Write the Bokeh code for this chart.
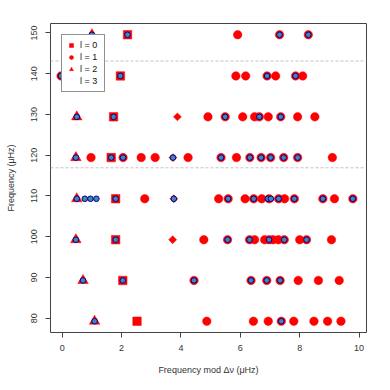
import math
from bokeh.plotting import figure
from bokeh.models import Range1d, Legend, LegendItem, Span, FixedTicker
from bokeh.embed import file_html
from bokeh.resources import INLINE

# ---- data -------------------------------------------------------------
# frequency of each échelle row (μHz)
row_freq = [79.25, 89.25, 99.25, 109.3, 119.4, 129.4, 139.45, 149.55]

# l = 0 (one per row)
l0_mod = [2.52, 2.04, 1.80, 1.80, 1.65, 1.73, 1.96, 2.20]
l0_freq = row_freq

# l = 2
l2_mod = [1.09, 0.70, 0.46, 0.49, 0.46, 0.49, 1.00]
l2_freq = [79.25, 89.25, 99.25, 109.3, 119.4, 129.4, 149.55]

# l = 3
l3_mod = [3.72, 3.76, 3.73, 3.88]
l3_freq = [99.25, 109.3, 119.4, 129.4]

# l = 1 (mixed modes), per row
l1_row1 = [4.87, 6.44, 6.94, 7.38, 7.80, 8.48, 8.94, 9.39]
l1_row2 = [4.44, 6.36, 6.89, 7.34, 7.95, 8.63, 9.33]
l1_row3 = [4.77, 5.57, 6.31, 6.48, 6.82, 6.97, 7.10, 7.28, 7.48, 8.00, 8.23, 9.07]
l1_row4 = [2.78, 5.27, 5.59, 6.16, 6.45, 6.72, 6.97, 7.29, 7.49, 7.82, 8.78, 9.17, 9.79]
l1_row5 = [0.97, 2.05, 2.66, 3.13, 4.24, 5.35, 5.87, 6.32, 6.70, 7.02, 7.46, 7.93, 9.10]
l1_row6 = [4.91, 5.49, 6.08, 6.48, 6.64, 6.94, 7.36, 7.93, 8.51]
l1_row7 = [-0.04, 5.85, 6.18, 6.90, 7.19, 7.86, 8.10]
l1_row8 = [5.91, 7.32, 8.29]

# observed frequencies (blue), per row
obs_row1 = [1.09, 7.38]
obs_row2 = [0.70, 2.04, 4.44, 6.36, 6.89, 7.34]
obs_row3 = [0.46, 1.80, 5.57, 6.31, 6.97, 7.48, 8.23]
obs_row4 = [0.49, 0.76, 0.95, 1.15, 1.80, 3.76, 5.59, 6.45, 6.93, 7.03, 7.29, 7.82, 8.78, 9.79]
obs_row5 = [0.46, 1.65, 2.05, 3.73, 5.35, 6.32, 6.70, 7.02, 7.46, 7.93]
obs_row6 = [0.49, 1.73, 5.49, 6.64, 7.36]
obs_row7 = [-0.04, 1.96, 6.90, 7.86]
obs_row8 = [1.00, 2.20, 7.32, 8.29]

# horizontal reference lines (μHz)
ref_lines = [143.1, 116.9]

x_ticks = [0, 2, 4, 6, 8, 10]
y_ticks = [80, 90, 100, 110, 120, 130, 140, 150]

l1_rows = [l1_row1, l1_row2, l1_row3, l1_row4, l1_row5, l1_row6, l1_row7, l1_row8]
obs_rows = [obs_row1, obs_row2, obs_row3, obs_row4, obs_row5, obs_row6, obs_row7, obs_row8]

l1_mod, l1_freq = [], []
for f, r in zip(row_freq, l1_rows):
    l1_mod += r
    l1_freq += [f] * len(r)
obs_mod, obs_freq = [], []
for f, r in zip(row_freq, obs_rows):
    obs_mod += r
    obs_freq += [f] * len(r)

# ---- figure -----------------------------------------------------------
RED = "#FF0000"
TXT = "#333333"
FONT = "Liberation Sans"

p = figure(frame_width=316, frame_height=309,
           min_border_left=50, min_border_right=22,
           min_border_top=23, min_border_bottom=56,
           x_range=Range1d(-0.395, 10.25), y_range=Range1d(76.48, 152.31),
           output_backend="svg", toolbar_location=None, tools="")
p.grid.visible = False
p.outline_line_color = "#444444"
p.outline_line_width = 1
p.background_fill_color = "white"
p.border_fill_color = "white"

for ax in (p.xaxis[0], p.yaxis[0]):
    ax.axis_line_color = None
    ax.major_tick_line_color = "#444444"
    ax.major_tick_out = 5
    ax.major_tick_in = 0
    ax.minor_tick_line_color = None
    ax.major_label_text_font = FONT
    ax.major_label_text_font_size = "9px"
    ax.major_label_text_color = TXT
    ax.axis_label_text_font = FONT
    ax.axis_label_text_font_size = "9px"
    ax.axis_label_text_font_style = "normal"
    ax.axis_label_text_color = TXT

p.xaxis.ticker = FixedTicker(ticks=x_ticks)
p.yaxis.ticker = FixedTicker(ticks=y_ticks)
p.xaxis.axis_label = "Frequency mod Δν (μHz)"
p.yaxis.axis_label = "Frequency (μHz)"
p.xaxis.major_label_standoff = 7
p.xaxis.axis_label_standoff = 11
p.yaxis.major_label_orientation = "vertical"
p.yaxis.major_label_standoff = 8
p.yaxis.axis_label_standoff = 13

for yv in ref_lines:
    p.add_layout(Span(location=yv, dimension="width", line_color="#C4C4C4",
                      line_width=1, line_dash="3 2"))

r0 = p.scatter(l0_mod, l0_freq, marker="square", size=8.5,
               fill_color=RED, line_color=RED, line_width=0.5)
r1 = p.scatter(l1_mod, l1_freq, marker="circle", size=8.5,
               fill_color=RED, line_color=RED, line_width=0.5)
r2 = p.scatter(l2_mod, l2_freq, marker="triangle", size=10.5,
               fill_color=RED, line_color=RED, line_width=0.5)
r3 = p.scatter(l3_mod, l3_freq, marker="square", angle=math.pi / 4, size=5.6,
               fill_color=RED, line_color=RED, line_width=0.5)
# legend-only glyph for l = 3 (no data)
r3_leg = p.scatter(x=[], y=[], marker="diamond", size=5,
                   fill_color=RED, line_color=RED, line_width=0.5)

p.scatter(obs_mod, obs_freq, marker="circle", size=5.6,
          fill_color="#4682B4", line_color="#00008B", line_width=1)

legend = Legend(items=[LegendItem(label="l = 0", renderers=[r0]),
                       LegendItem(label="l = 1", renderers=[r1]),
                       LegendItem(label="l = 2", renderers=[r2]),
                       LegendItem(label="l = 3", renderers=[r3_leg])],
                location="top_left", margin=11, padding=4, spacing=0,
                glyph_width=10, glyph_height=12, label_height=12,
                label_standoff=4, label_text_font=FONT,
                label_text_font_size="9px", label_text_color="#111111",
                border_line_color="#222222", border_line_width=1,
                background_fill_color="white", background_fill_alpha=1.0)
p.add_layout(legend)

open("out.html", "w").write(file_html(p, INLINE))
